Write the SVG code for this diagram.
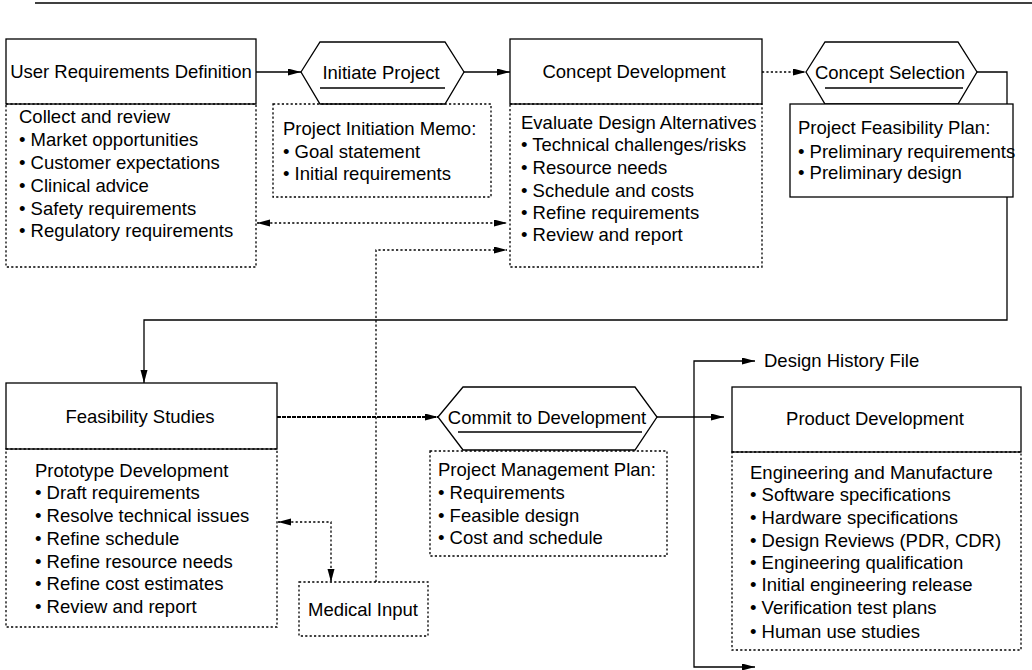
<svg xmlns="http://www.w3.org/2000/svg" width="1032" height="670" viewBox="0 0 1032 670">
<defs>
<marker id="ah" markerUnits="userSpaceOnUse" markerWidth="14" markerHeight="8" refX="13" refY="3.5" orient="auto-start-reverse">
<path d="M0,0 L13,3.5 L0,7 z" fill="#000"/>
</marker>
<style>
text{font-family:"Liberation Sans",Arial,sans-serif;font-size:18.5px;fill:#000}
.mid{text-anchor:middle}
.solid{fill:#fff;stroke:#000;stroke-width:1.3}
.dot{fill:none;stroke:#000;stroke-width:1.3;stroke-dasharray:2.2 2.2}
.ln{fill:none;stroke:#000;stroke-width:1.3}
.dl{fill:none;stroke:#000;stroke-width:1.3;stroke-dasharray:2.2 2.2}
.dash{fill:none;stroke:#000;stroke-width:1.8;stroke-dasharray:4 1}
.ul{stroke:#000;stroke-width:1.3}
</style>
</defs>
<rect width="1032" height="670" fill="#fff"/>
<line x1="35" y1="3" x2="1032" y2="3" stroke="#000" stroke-width="1.3"/>

<g id="connectors">
<path class="ln" d="M256,72 H301" marker-end="url(#ah)"/>
<path class="ln" d="M464,72 H510" marker-end="url(#ah)"/>
<path class="dl" d="M762,72 H806" marker-end="url(#ah)"/>
<path class="ln" d="M977,72 H1007 V320 H144 V383" marker-end="url(#ah)"/>
<path class="dl" d="M257,223 H507" marker-start="url(#ah)" marker-end="url(#ah)"/>
<path class="dl" d="M376,582 V250 H507" marker-end="url(#ah)"/>
<path class="dl" d="M278,522 H331 V582" marker-start="url(#ah)" marker-end="url(#ah)"/>
<path class="dash" d="M277,417 H438" marker-end="url(#ah)"/>
<path class="ln" d="M657,417 H724" marker-end="url(#ah)"/>
<path class="ln" d="M694,417 V361 H755" marker-end="url(#ah)"/>
<path class="ln" d="M694,417 V667 H755" marker-end="url(#ah)"/>
</g>

<g id="user-requirements">
<rect class="solid" x="6" y="39" width="250" height="65"/>
<text class="mid" x="131" y="78">User Requirements Definition</text>
<rect class="dot" x="6" y="104" width="250" height="163"/>
<text x="19" y="123">Collect and review</text>
<text x="19" y="146">• Market opportunities</text>
<text x="19" y="169">• Customer expectations</text>
<text x="19" y="192">• Clinical advice</text>
<text x="19" y="215">• Safety requirements</text>
<text x="19" y="237">• Regulatory requirements</text>
</g>

<g id="initiate-project">
<polygon class="solid" points="301,72 320,42 445,42 464,72 445,104 320,104"/>
<text class="mid" x="381" y="79">Initiate Project</text>
<line class="ul" x1="320" y1="88" x2="445" y2="88"/>
</g>

<g id="initiation-memo">
<rect class="dot" x="273" y="104" width="218" height="93"/>
<text x="283" y="135">Project Initiation Memo:</text>
<text x="283" y="158">• Goal statement</text>
<text x="283" y="180">• Initial requirements</text>
</g>

<g id="concept-development">
<rect class="solid" x="510" y="39" width="252" height="65"/>
<text class="mid" x="634" y="78">Concept Development</text>
<rect class="dot" x="510" y="104" width="252" height="163"/>
<text x="521" y="129">Evaluate Design Alternatives</text>
<text x="521" y="151">• Technical challenges/risks</text>
<text x="521" y="174">• Resource needs</text>
<text x="521" y="197">• Schedule and costs</text>
<text x="521" y="219">• Refine requirements</text>
<text x="521" y="241">• Review and report</text>
</g>

<g id="concept-selection">
<polygon class="solid" points="806,72 825,42 958,42 977,72 958,104 825,104"/>
<text class="mid" x="890" y="79">Concept Selection</text>
<line class="ul" x1="825" y1="88" x2="963" y2="88"/>
</g>

<g id="feasibility-plan">
<rect class="solid" x="790" y="104" width="223" height="93"/>
<text x="798" y="134">Project Feasibility Plan:</text>
<text x="798" y="158">• Preliminary requirements</text>
<text x="798" y="179">• Preliminary design</text>
</g>

<g id="feasibility-studies">
<rect class="solid" x="6" y="383" width="271" height="66"/>
<text class="mid" x="140" y="423">Feasibility Studies</text>
<rect class="dot" x="6" y="449" width="271" height="178"/>
<text x="35" y="477">Prototype Development</text>
<text x="35" y="499">• Draft requirements</text>
<text x="35" y="522">• Resolve technical issues</text>
<text x="35" y="545">• Refine schedule</text>
<text x="35" y="568">• Refine resource needs</text>
<text x="35" y="590">• Refine cost estimates</text>
<text x="35" y="613">• Review and report</text>
</g>

<g id="medical-input">
<rect class="dot" x="299" y="582" width="129" height="54"/>
<text class="mid" x="363" y="616">Medical Input</text>
</g>

<g id="commit">
<polygon class="solid" points="438,417 463,387 635,387 657,417 635,450 463,450"/>
<text class="mid" x="547" y="424">Commit to Development</text>
<line class="ul" x1="458" y1="432" x2="642" y2="432"/>
</g>

<g id="management-plan">
<rect class="dot" x="430" y="451" width="237" height="105"/>
<text x="438" y="476">Project Management Plan:</text>
<text x="438" y="499">• Requirements</text>
<text x="438" y="522">• Feasible design</text>
<text x="438" y="544">• Cost and schedule</text>
</g>

<g id="design-history">
<text x="764" y="367">Design History File</text>
</g>

<g id="product-development">
<rect class="solid" x="732" y="387" width="289" height="65"/>
<text class="mid" x="875" y="425">Product Development</text>
<rect class="dot" x="732" y="452" width="289" height="198"/>
<text x="750" y="479">Engineering and Manufacture</text>
<text x="750" y="501">• Software specifications</text>
<text x="750" y="524">• Hardware specifications</text>
<text x="750" y="547">• Design Reviews (PDR, CDR)</text>
<text x="750" y="569">• Engineering qualification</text>
<text x="750" y="591">• Initial engineering release</text>
<text x="750" y="614">• Verification test plans</text>
<text x="750" y="638">• Human use studies</text>
</g>
</svg>
